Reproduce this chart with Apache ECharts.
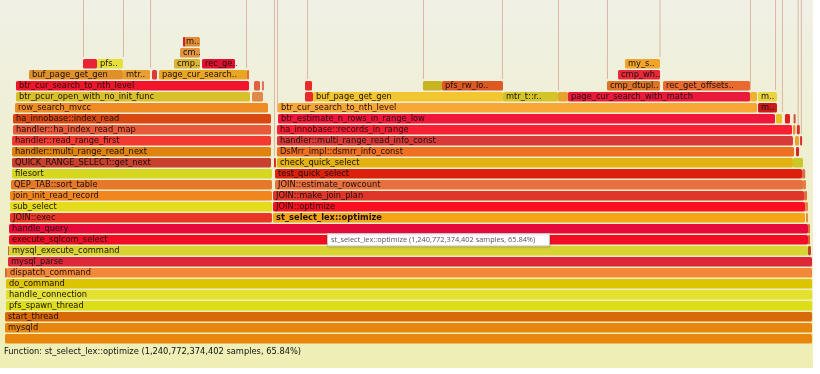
<!DOCTYPE html>
<html>
<head>
<meta charset="utf-8">
<script src="https://cdn.jsdelivr.net/npm/echarts@6/dist/echarts.min.js"></script>
<style>
html,body{margin:0;padding:0;background:#ffffff;}
#chart{width:820px;height:374px;}
</style>
</head>
<body>
<div id="chart"></div>
<script>
// ---- DATA: [label, depth, start % of samples, width % of samples] ----
const baseStack = [
  ["", 0, 0, 99.88],
  ["mysqld", 1, 0, 99.88],
  ["start_thread", 2, 0, 99.88],
  ["pfs_spawn_thread", 3, 0.12, 99.76],
  ["handle_connection", 4, 0.12, 99.76],
  ["do_command", 5, 0.12, 99.76],
  ["dispatch_command", 6, 0.25, 99.63],
  ["mysql_parse", 7, 0.37, 99.51],
  ["mysql_execute_command", 8, 0.5, 98.88],
  ["execute_sqlcom_select", 9, 0.5, 98.88],
  ["handle_query", 10, 0.5, 98.88]
];
const leftBlock = [
  ["JOIN::exec", 11, 0.62, 32.42],
  ["sub_select", 12, 0.62, 32.42],
  ["join_init_read_record", 13, 0.62, 32.42],
  ["QEP_TAB::sort_table", 14, 0.74, 32.30],
  ["filesort", 15, 0.87, 32.17],
  ["QUICK_RANGE_SELECT::get_next", 16, 0.87, 32.05],
  ["handler::multi_range_read_next", 17, 0.87, 32.05],
  ["handler::read_range_first", 18, 0.87, 32.05],
  ["handler::ha_index_read_map", 19, 0.99, 31.93],
  ["ha_innobase::index_read", 20, 0.99, 31.93],
  ["row_search_mvcc", 21, 1.24, 31.31],
  ["btr_pcur_open_with_no_init_func", 22, 1.36, 28.96],
  ["btr_cur_search_to_nth_level", 23, 1.36, 28.84],
  ["buf_page_get_gen", 24, 2.97, 11.63],
  ["mtr..", 24, 14.60, 3.35],
  ["page_cur_search..", 24, 19.06, 10.89],
  ["", 25, 9.65, 1.74],
  ["pfs..", 25, 11.39, 3.21],
  ["cmp..", 25, 20.92, 3.21],
  ["rec_ge..", 25, 24.38, 4.09],
  ["cm..", 26, 21.66, 2.47],
  ["m..", 27, 22.03, 2.10]
];
const rightBlock = [
  ["st_select_lex::optimize", 11, 33.17, 65.84],
  ["JOIN::optimize", 12, 33.17, 65.84],
  ["JOIN::make_join_plan", 13, 33.17, 65.72],
  ["JOIN::estimate_rowcount", 14, 33.42, 65.34],
  ["test_quick_select", 15, 33.42, 65.22],
  ["check_quick_select", 16, 33.66, 63.86],
  ["DsMrr_impl::dsmrr_info_const", 17, 33.66, 63.99],
  ["handler::multi_range_read_info_const", 18, 33.66, 63.86],
  ["ha_innobase::records_in_range", 19, 33.66, 63.74],
  ["btr_estimate_n_rows_in_range_low", 20, 33.79, 61.51],
  ["btr_cur_search_to_nth_level", 21, 33.79, 59.28],
  ["m..", 21, 93.19, 2.35],
  ["", 22, 37.13, 0.99],
  ["buf_page_get_gen", 22, 38.12, 23.51],
  ["mtr_t::r..", 22, 61.63, 6.81],
  ["", 22, 68.44, 1.24],
  ["page_cur_search_with_match", 22, 69.68, 22.52],
  ["", 22, 92.2, 0.87],
  ["m..", 22, 93.19, 2.35],
  ["", 23, 37.13, 0.87],
  ["", 23, 51.73, 2.35],
  ["pfs_rw_lo..", 23, 54.08, 7.55],
  ["cmp_dtupl..", 23, 74.50, 6.56],
  ["rec_get_offsets..", 23, 81.44, 10.76],
  ["cmp_wh..", 24, 75.87, 5.20],
  ["my_s..", 25, 76.73, 4.33]
];
// small unlabeled frames: [depth, start %, width %]
const smallFrames = [
  [6, 0, 0.25], [8, 0.37, 0.12], [8, 99.38, 0.37], [9, 99.38, 0.25], [10, 99.38, 0.25],
  [11, 99.13, 0.25], [12, 99.01, 0.37], [13, 98.89, 0.37], [14, 98.76, 0.37], [15, 98.64, 0.40],
  [16, 97.52, 1.24], [16, 33.29, 0.25], [17, 97.90, 0.37], [18, 97.77, 0.50], [18, 98.40, 0.25],
  [19, 97.52, 0.30], [19, 98.00, 0.37], [20, 95.42, 0.74], [20, 96.53, 0.62], [20, 97.60, 0.25],
  [24, 18.19, 0.62], [24, 29.95, 0.25], [23, 30.82, 0.74], [23, 31.80, 0.25], [22, 30.57, 1.36],
  [27, 22.03, 0.25]
];
// very narrow deep stacks: [start %, base depth]
const thinStacks = [
  [9.65, 26], [14.60, 26], [17.95, 25], [29.83, 25], [33.29, 17], [33.66, 21], [37.38, 24],
  [51.73, 24], [61.50, 24], [68.44, 23], [74.50, 24], [81.00, 26], [92.20, 23], [95.30, 23],
  [96.16, 21], [98.10, 19], [98.50, 19]
];
const selectedFrame = "st_select_lex::optimize";
const functionInfo = "Function: st_select_lex::optimize (1,240,772,374,402 samples, 65.84%)";
const hoverInfo = "st_select_lex::optimize (1,240,772,374,402 samples, 65.84%)";

// ---- STYLES ----
const baseColors = ["#e8860e","#e8850f","#d96a08","#dede18","#e4e030","#dcc400","#f28838","#dc2838","#d8d434","#f20c24","#e60a3a"];
const leftColors = ["#ea3626","#e4dc1c","#f2861e","#e6782a","#d6d820","#c8402e","#e0820e","#f23a32","#e8583a","#d84812",
  "#f08a22","#d8c02a","#f2142a","#e09028","#e8a030","#e8a622","#e82434","#e6e038","#d8b430","#e0102e","#e09440","#e08c34"];
const rightColors = ["#f4a414","#fa1020","#e0362a","#e8703e","#dc200c","#e2b212","#f07022","#d83a3a","#f81e34","#f0163a",
  "#f8a636","#c81a1a","#e82a2a","#f2c630","#d4c428","#e8a030","#ea1a3a","#f0b030","#e8d440","#e82a2a","#c8b420",
  "#dc5a22","#de7426","#e86a2e","#e62838","#f0a428"];
const smallColors = ["#c87040","#c06040","#b84828","#e06030","#e07030","#e09040","#e08848","#e07040","#e08040","#d87050",
  "#ccc828","#d83020","#d82020","#f0a030","#d83030","#f09030","#d83028","#e8c020","#e02020","#d05040",
  "#e03838","#e07030","#e06040","#e07060","#e08848","#d82020"];

const frames = [];
baseStack.forEach((f,i)=>frames.push({label:f[0], d:f[1], s:f[2], w:f[3], color:baseColors[i]}));
leftBlock.forEach((f,i)=>frames.push({label:f[0], d:f[1], s:f[2], w:f[3], color:leftColors[i]}));
rightBlock.forEach((f,i)=>frames.push({label:f[0], d:f[1], s:f[2], w:f[3], color:rightColors[i]}));
smallFrames.forEach((f,i)=>frames.push({label:"", d:f[0], s:f[1], w:f[2], color:smallColors[i]}));

const TOP_DEPTH = 33;
const ROW_PX = 11;
const GRID_H = 344;

const labelFont = '8.3px "DejaVu Sans"';
const selectedFont = 'bold 8.3px "DejaVu Sans"';

function renderFrame(params, api) {
  const d = api.value(0), s = api.value(1), w = api.value(2);
  const a = api.coord([s, d]);
  const b = api.coord([s + w, d + 1]);
  const x = a[0];
  const width = Math.max(b[0] - a[0], 0.9);
  const top = b[1] + 1;
  const height = (a[1] - b[1]) - 1.5;
  const f = frames[params.dataIndex];
  const children = [{
    type: 'rect',
    shape: {x: x, y: top, width: width, height: height, r: 1.5},
    style: {fill: f.color}
  }];
  if (f.label) {
    children.push({
      type: 'text',
      style: {text: f.label, x: x + 3, y: top + height / 2 + 0.3, verticalAlign: 'middle',
              font: f.label === selectedFrame ? selectedFont : labelFont, fill: '#1c1010'}
    });
  }
  return {type: 'group', children: children};
}

function renderThin(params, api) {
  const s = api.value(0), d = api.value(1);
  const a = api.coord([s, d]);
  const b = api.coord([s + 0.12, TOP_DEPTH]);
  return {
    type: 'rect',
    shape: {x: a[0], y: b[1], width: Math.max(b[0] - a[0], 1), height: a[1] - b[1] - 1},
    style: {fill: '#c8705a', opacity: 0.45}
  };
}

const chart = echarts.init(document.getElementById('chart'), null, {renderer: 'canvas'});
chart.setOption({
  animation: false,
  backgroundColor: '#ffffff',
  grid: {left: 5, top: 0, width: 808, height: GRID_H},
  xAxis: {type: 'value', min: 0, max: 100, show: false},
  yAxis: {type: 'value', min: 0, max: GRID_H / ROW_PX, show: false},
  graphic: [
    {
      type: 'rect', z: -100, silent: true,
      shape: {x: 0, y: 0, width: 813, height: 368},
      style: {fill: new echarts.graphic.LinearGradient(0, 0, 0, 1, [
        {offset: 0, color: '#f0f0e6'}, {offset: 1, color: '#eeeeb4'}])}
    },
    {
      type: 'text', z: 100, silent: true,
      style: {text: functionInfo, x: 4, y: 352, verticalAlign: 'middle', font: labelFont, fill: '#111111'}
    },
    {
      type: 'rect', z: 100, silent: true,
      shape: {x: 327.5, y: 233.5, width: 222, height: 12.5},
      style: {fill: '#ffffff', stroke: '#c4c4c4', lineWidth: 1,
              shadowBlur: 2, shadowColor: 'rgba(0,0,0,0.15)', shadowOffsetY: 1}
    },
    {
      type: 'text', z: 101, silent: true,
      style: {text: hoverInfo, x: 331, y: 240, verticalAlign: 'middle',
              font: '7.4px "Open Sans"', fill: '#555555'}
    }
  ],
  series: [
    {
      type: 'custom', silent: true, clip: false,
      renderItem: renderThin,
      data: thinStacks.map(t => [t[0], t[1]])
    },
    {
      type: 'custom', silent: true, clip: false,
      renderItem: renderFrame,
      data: frames.map(f => [f.d, f.s, f.w])
    }
  ]
});
</script>
</body>
</html>
